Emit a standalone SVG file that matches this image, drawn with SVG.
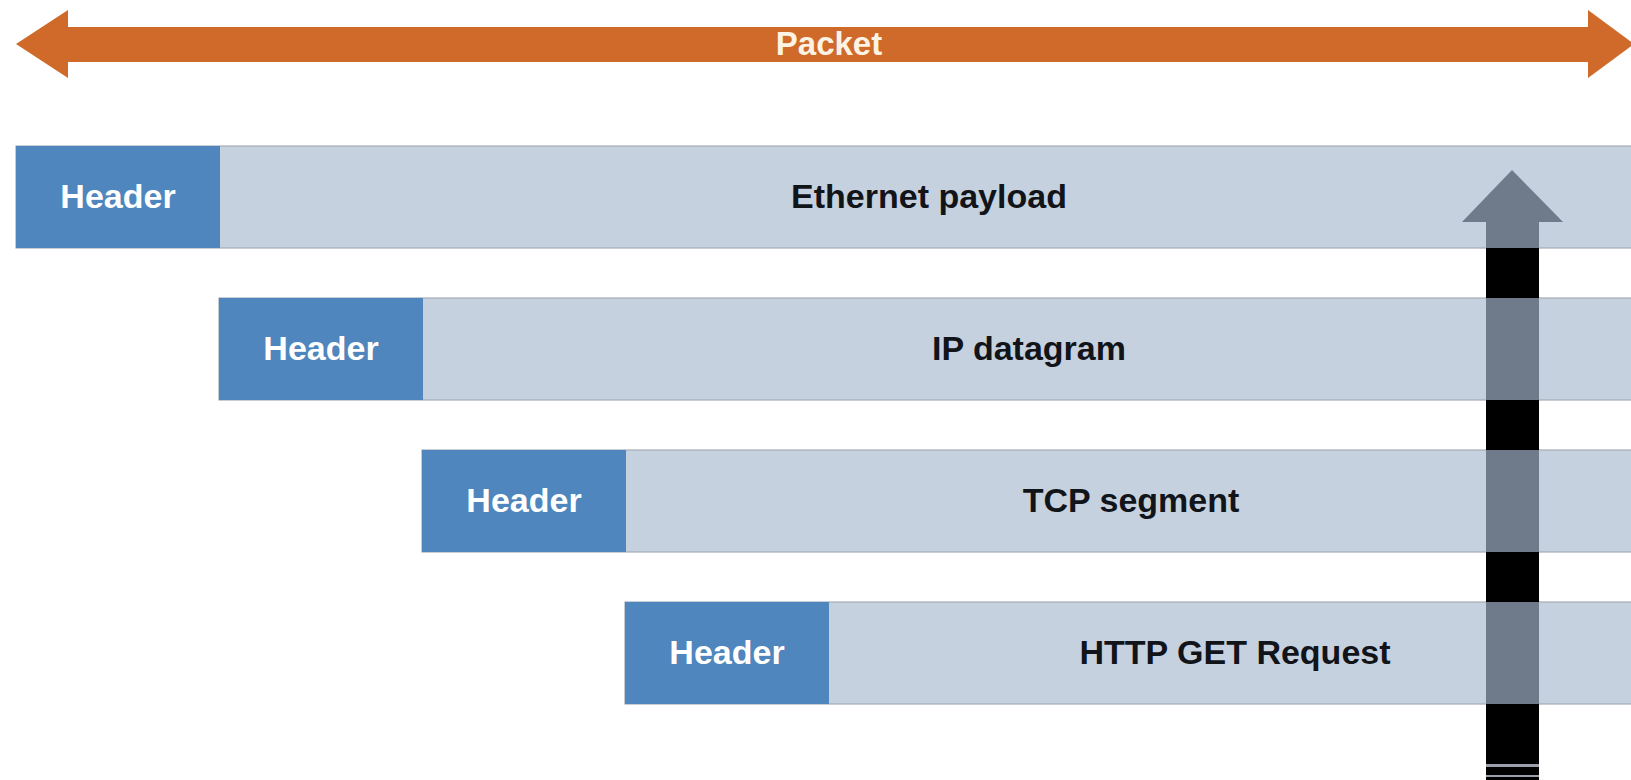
<svg xmlns="http://www.w3.org/2000/svg" width="1631" height="780" viewBox="0 0 1631 780">
  <defs>
    <style>
      .hdr { fill: #4F86BD; }
      .bar { fill: #C6D1DF; stroke: #A3ACB7; stroke-width: 1.2; }
      .hdr-txt { font-family: "Liberation Sans", Arial, sans-serif; font-weight: bold; font-size: 34px; fill: #FFFFFF; text-anchor: middle; }
      .bar-txt { font-family: "Liberation Sans", Arial, sans-serif; font-weight: bold; font-size: 34px; fill: #111418; text-anchor: middle; }
      .pkt-txt { font-family: "Liberation Sans", Arial, sans-serif; font-weight: bold; font-size: 33px; fill: #FDF3E4; text-anchor: middle; }
      .gap { fill: #000000; }
      .seam { fill: #9AA1AA; }
    </style>
  </defs>
  <rect width="1631" height="780" fill="#FFFFFF"/>

  <!-- Packet extent: double-headed arrow -->
  <g id="packet">
    <polygon points="16,44 68,10 68,27 1588,27 1588,10 1634,44 1588,78 1588,62 68,62 68,78" fill="#CF6A2A"/>
    <text class="pkt-txt" x="829" y="55">Packet</text>
  </g>

  <!-- Ethernet frame -->
  <g id="ethernet">
    <rect class="bar" x="16" y="146" width="1640" height="102"/>
    <rect class="hdr" x="16" y="146" width="204" height="102"/>
    <text class="hdr-txt" x="118" y="208">Header</text>
    <text class="bar-txt" x="929" y="208">Ethernet payload</text>
  </g>

  <!-- IP datagram -->
  <g id="ip">
    <rect class="bar" x="219" y="298" width="1440" height="102"/>
    <rect class="hdr" x="219" y="298" width="204" height="102"/>
    <text class="hdr-txt" x="321" y="360">Header</text>
    <text class="bar-txt" x="1029" y="360">IP datagram</text>
  </g>

  <!-- TCP segment -->
  <g id="tcp">
    <rect class="bar" x="422" y="450" width="1240" height="102"/>
    <rect class="hdr" x="422" y="450" width="204" height="102"/>
    <text class="hdr-txt" x="524" y="512">Header</text>
    <text class="bar-txt" x="1131" y="512">TCP segment</text>
  </g>

  <!-- HTTP request -->
  <g id="http">
    <rect class="bar" x="625" y="602" width="1040" height="102"/>
    <rect class="hdr" x="625" y="602" width="204" height="102"/>
    <text class="hdr-txt" x="727" y="664">Header</text>
    <text class="bar-txt" x="1235" y="664">HTTP GET Request</text>
  </g>

  <!-- Upward arrow through the layers -->
  <g id="connectors">
    <polygon points="1512,170 1563,222 1539,222 1539,780 1486,780 1486,222 1462,222" fill="#6F7B8A"/>
    <rect class="gap" x="1486" y="248" width="53" height="50"/>
    <rect class="gap" x="1486" y="400" width="53" height="50"/>
    <rect class="gap" x="1486" y="552" width="53" height="50"/>
    <rect class="gap" x="1486" y="704" width="53" height="76"/>
    <rect class="seam" x="1486" y="764" width="53" height="3"/>
    <rect class="seam" x="1486" y="775" width="53" height="2"/>
  </g>
</svg>
